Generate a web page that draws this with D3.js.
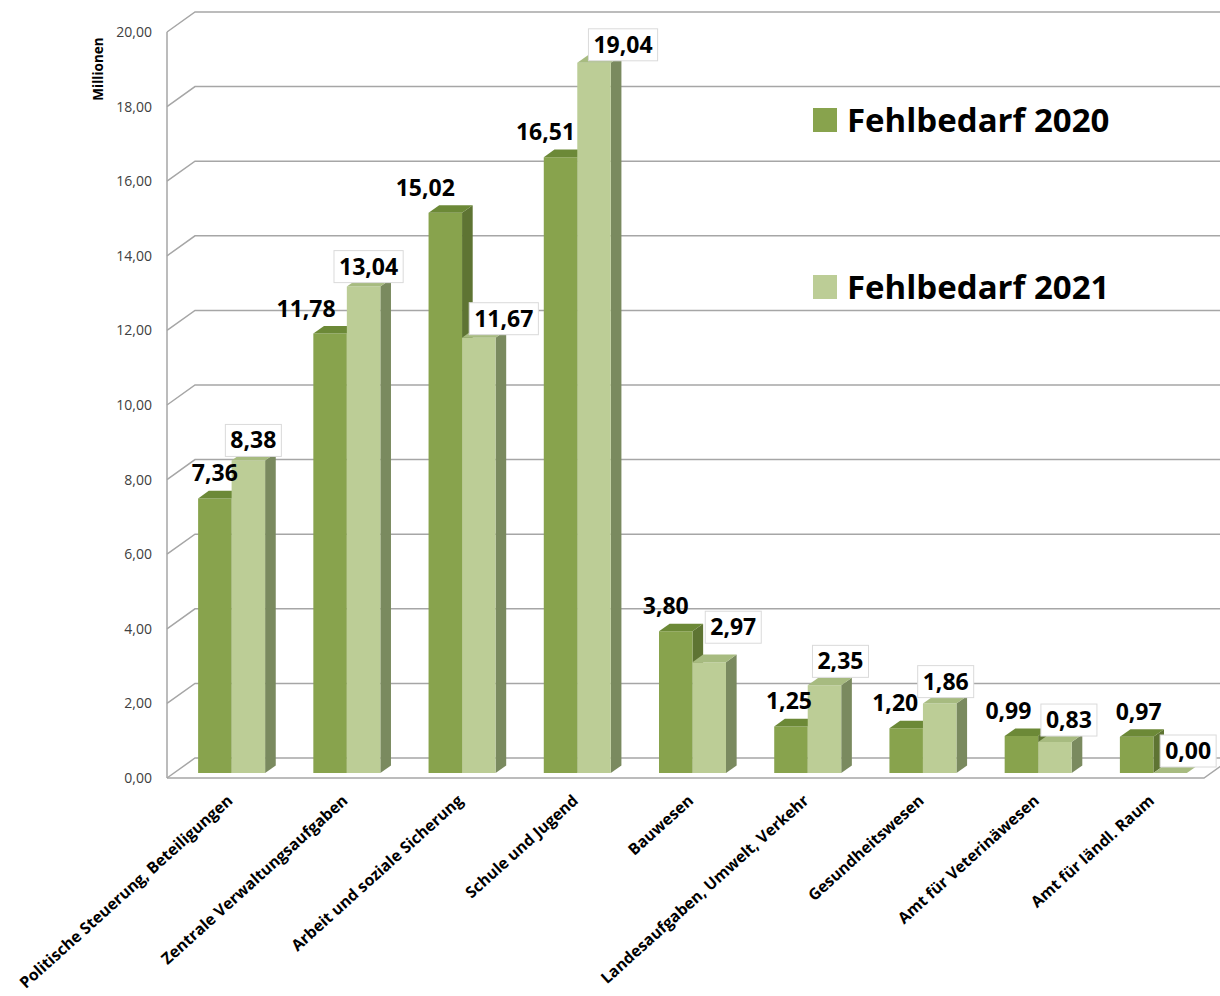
<!DOCTYPE html>
<html>
<head>
<meta charset="utf-8">
<script src="https://cdn.jsdelivr.net/npm/d3@7/dist/d3.min.js"></script>
<style>
  body { margin: 0; background: #fff; }
  svg { display: block; }
  .tickLabel { font-family: "Open Sans", sans-serif; font-size: 14px; fill: #404040; }
  .catLabel { font-family: "Open Sans", sans-serif; font-size: 15.8px; font-weight: bold; fill: #000; }
  .valLabel { font-family: "Open Sans", sans-serif; font-size: 23px; font-weight: bold; fill: #000; }
  .legendText { font-family: "Open Sans", sans-serif; font-size: 33px; font-weight: bold; fill: #000; }
  .grid { stroke: #a6a6a6; stroke-width: 1.5; fill: none; }
</style>
</head>
<body>
<div id="chart"></div>
<script>
var categories = ["Politische Steuerung, Beteiligungen", "Zentrale Verwaltungsaufgaben",
                  "Arbeit und soziale Sicherung", "Schule und Jugend", "Bauwesen",
                  "Landesaufgaben, Umwelt, Verkehr", "Gesundheitswesen",
                  "Amt für Veterinäwesen", "Amt für ländl. Raum"];
var values2020 = [7.36, 11.78, 15.02, 16.51, 3.80, 1.25, 1.20, 0.99, 0.97];
var values2021 = [8.38, 13.04, 11.67, 19.04, 2.97, 2.35, 1.86, 0.83, 0.00];
var seriesNames = ["Fehlbedarf 2020", "Fehlbedarf 2021"];
var yTicks = [0, 2, 4, 6, 8, 10, 12, 14, 16, 18, 20];

// label nudges (Excel moved some labels to avoid overlaps)
var labelDx2020 = [0, -24, -20, -15, -10, -2, -11, -13, 2];
var labelDx2021 = [5, 5, 25, 29, 24, 16, 6, 14, 18];
var labelDy2021 = [-20, -20, -19, -18, -35, -24, -22, -22, -22];

var W = 1220, H = 996;
var DEPTH_X = 28, DEPTH_Y = -20;   // full depth of the floor
var D1 = 0.25, D2 = 0.63;          // front and back of the bars (fraction of depth)
var BAR_W = 33.5;

var locale = d3.formatLocale({decimal: ",", thousands: ".", grouping: [3], currency: ["", "€"]});
var fmt = locale.format(".2f");

var colors = {
    dark:  {front: "#88a34d", top: "#6c8937", side: "#5e7433"},
    light: {front: "#bccd96", top: "#a7bb80", side: "#7a8a5f"}
};

var y = d3.scaleLinear().domain([0, 20]).range([778, 32]);
var x = d3.scaleBand().domain(categories).range([167, 1204]);

function P(px, v, d) {
    return [px + DEPTH_X * d, y(v) + DEPTH_Y * d];
}
function poly(pts) {
    return "M" + pts.map(function(p){ return p[0] + "," + p[1]; }).join("L") + "Z";
}

var svg = d3.select("#chart").append("svg")
    .attr("width", W).attr("height", H);

// gridlines: diagonal on the side, horizontal along the back wall
var grid = svg.append("g");
grid.selectAll(".gl").data(yTicks).enter().append("path")
    .attr("class", "grid")
    .attr("d", function(t) {
        var a = P(167, t, 0), b = P(167, t, 1);
        return "M" + a + "L" + b + "L" + W + "," + b[1];
    });
// front axis line and floor edge
grid.append("path").attr("class", "grid")
    .attr("d", "M" + P(167, 20, 0) + "L" + P(167, 0, 0));
grid.append("path").attr("class", "grid")
    .attr("d", "M" + P(167, 0, 0) + "L" + P(1204, 0, 0) + "L" + P(1204, 0, 1));

// y tick labels
svg.selectAll(".tickLabel").data(yTicks).enter().append("text")
    .attr("class", "tickLabel")
    .attr("x", 152)
    .attr("y", function(t){ return y(t) + 5; })
    .attr("text-anchor", "end")
    .text(function(t){ return fmt(t); });

svg.append("text")
    .attr("transform", "translate(103,69) rotate(-90)")
    .attr("text-anchor", "middle")
    .style("font-family", "'Open Sans', sans-serif")
    .style("font-size", "13.5px")
    .style("font-weight", "bold")
    .text("Millionen");

// bars
function barLeft(i, s) {
    return x(categories[i]) + (x.bandwidth() - 2 * BAR_W) / 2 + s * BAR_W;
}

var bars = svg.append("g");
categories.forEach(function(c, i) {
    [values2020[i], values2021[i]].forEach(function(v, s) {
        var col = s === 0 ? colors.dark : colors.light;
        var x0 = barLeft(i, s), x1 = x0 + BAR_W;
        var g = bars.append("g");
        g.append("path").attr("fill", col.side)
            .attr("d", poly([P(x1, 0, D1), P(x1, v, D1), P(x1, v, D2), P(x1, 0, D2)]));
        g.append("path").attr("fill", col.front)
            .attr("d", poly([P(x0, 0, D1), P(x1, 0, D1), P(x1, v, D1), P(x0, v, D1)]));
        g.append("path").attr("fill", col.top)
            .attr("d", poly([P(x0, v, D1), P(x1, v, D1), P(x1, v, D2), P(x0, v, D2)]));
    });
});

// value labels
var labels = svg.append("g");
categories.forEach(function(c, i) {
    // 2020: plain
    var p = P(barLeft(i, 0) + BAR_W / 2, values2020[i], D1);
    labels.append("text").attr("class", "valLabel")
        .attr("x", p[0] + labelDx2020[i])
        .attr("y", p[1] - 25 + 8)
        .attr("text-anchor", "middle")
        .text(fmt(values2020[i]));

    // 2021: in a white box
    var q = P(barLeft(i, 1) + BAR_W / 2, values2021[i], D1);
    var cx = q[0] + labelDx2021[i], cy = q[1] + labelDy2021[i];
    var box = labels.append("rect")
        .attr("fill", "#fff").attr("stroke", "#dadada").attr("stroke-width", 1);
    var t = labels.append("text").attr("class", "valLabel")
        .attr("x", cx).attr("y", cy + 8)
        .attr("text-anchor", "middle")
        .text(fmt(values2021[i]));
    var bb = t.node().getBBox();
    box.attr("x", bb.x - 5).attr("y", cy - 16)
        .attr("width", bb.width + 10).attr("height", 32);
});

// category labels
svg.selectAll(".catLabel").data(categories).enter().append("text")
    .attr("class", "catLabel")
    .attr("text-anchor", "end")
    .attr("transform", function(d, i) {
        var px = barLeft(i, 1);
        return "translate(" + (px + 9) + ",802) rotate(-42)";
    })
    .text(function(d){ return d; });

// legend
var legend = svg.append("g");
[colors.dark.front, colors.light.front].forEach(function(col, i) {
    var ly = 120 + i * 167;
    legend.append("rect").attr("x", 813).attr("y", ly - 12)
        .attr("width", 24).attr("height", 24).attr("fill", col);
    legend.append("text").attr("class", "legendText")
        .attr("x", 847).attr("y", ly + 12)
        .text(seriesNames[i]);
});
</script>
</body>
</html>
